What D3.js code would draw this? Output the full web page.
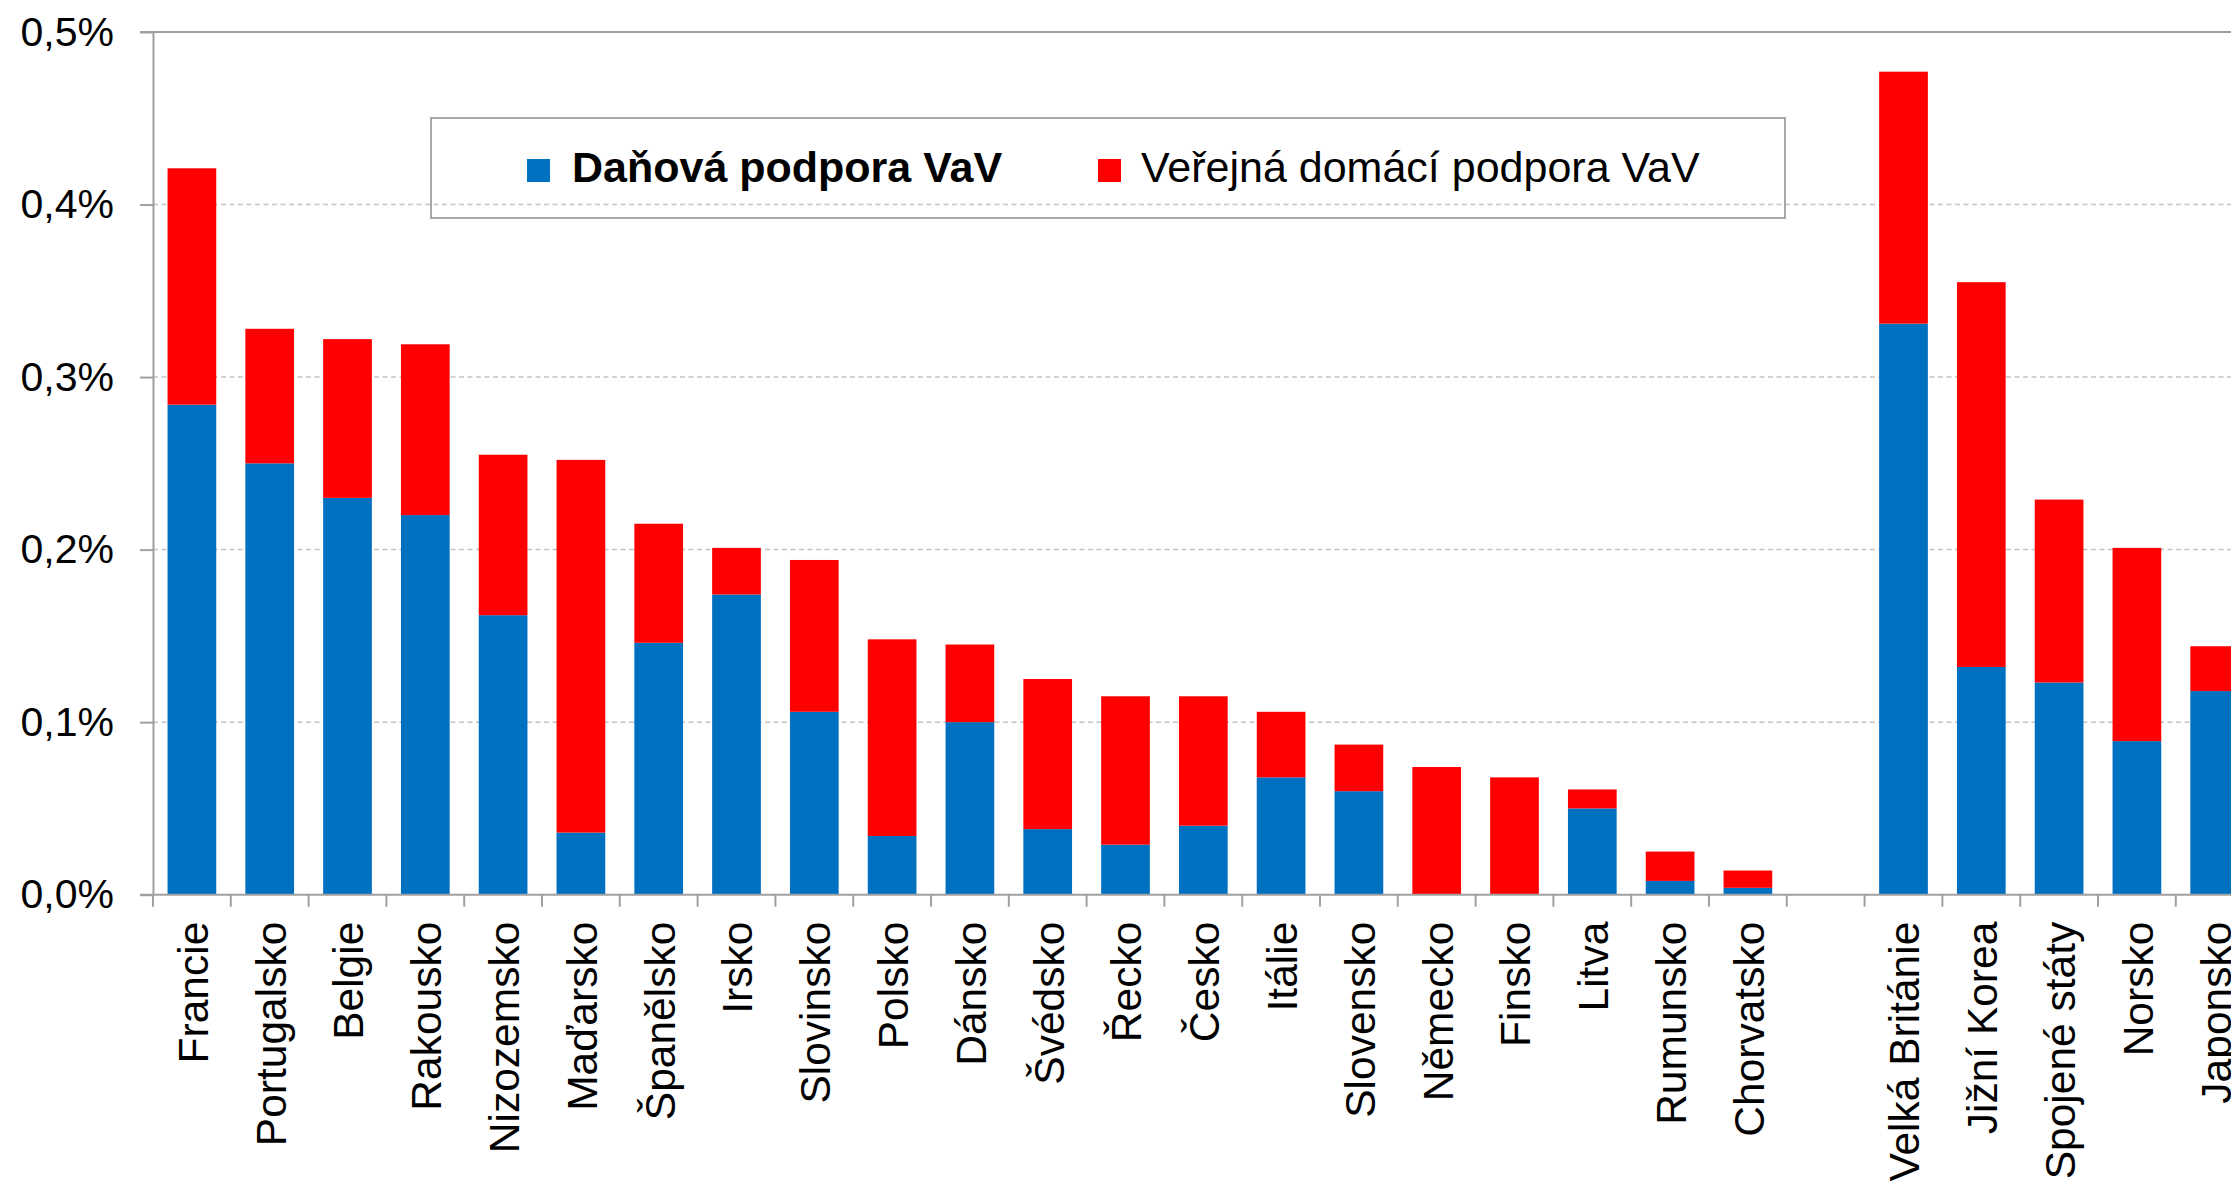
<!DOCTYPE html>
<html lang="cs">
<head>
<meta charset="utf-8">
<title>Daňová a veřejná domácí podpora VaV</title>
<script src="https://cdn.jsdelivr.net/npm/d3@7"></script>
<style>
  html, body { margin: 0; padding: 0; background: #ffffff; overflow: hidden; }
  svg { display: block; font-family: "Liberation Sans", Arial, Helvetica, sans-serif; }
</style>
</head>
<body>
<svg id="chart" width="2231" height="1184"></svg>
<script>
// Countries in drawing order; the empty entry is the gap between EU and non-EU countries
const countries = [
  "Francie", "Portugalsko", "Belgie", "Rakousko", "Nizozemsko", "Maďarsko",
  "Španělsko", "Irsko", "Slovinsko", "Polsko", "Dánsko", "Švédsko", "Řecko",
  "Česko", "Itálie", "Slovensko", "Německo", "Finsko", "Litva", "Rumunsko",
  "Chorvatsko", "",
  "Velká Británie", "Jižní Korea", "Spojené státy", "Norsko", "Japonsko"
];

// Tax support for R&D (% of GDP)
const taxSupport = [
  0.284, 0.250, 0.230, 0.220, 0.162, 0.036,
  0.146, 0.174, 0.106, 0.034, 0.100, 0.038, 0.029,
  0.040, 0.068, 0.060, 0.000, 0.000, 0.050, 0.008,
  0.004, null,
  0.331, 0.132, 0.123, 0.089, 0.118
];

// Direct public domestic support for R&D (% of GDP)
const directSupport = [
  0.137, 0.078, 0.092, 0.099, 0.093, 0.216,
  0.069, 0.027, 0.088, 0.114, 0.045, 0.087, 0.086,
  0.075, 0.038, 0.027, 0.074, 0.068, 0.011, 0.017,
  0.010, null,
  0.146, 0.223, 0.106, 0.112, 0.026
];

const yTickValues = [0, 0.1, 0.2, 0.3, 0.4, 0.5];

const seriesNames = ["Daňová podpora VaV", "Veřejná domácí podpora VaV"];
const seriesColors = ["#0070C0", "#FF0000"];

// ---- layout ----
const svg = d3.select("#chart");
const plotLeft = 153, plotTop = 32, plotBottom = 894.7;
const step = 77.8;
const barFrac = 0.626;

const x = d3.scaleBand()
  .domain(countries.map((c, i) => i))
  .range([plotLeft, plotLeft + step * countries.length])
  .padding(0);

const y = d3.scaleLinear().domain([0, 0.5]).range([plotBottom, plotTop]);

const pctFormat = v => d3.format(".1f")(v).replace(".", ",") + "%";

// ---- gridlines ----
svg.append("g")
  .selectAll("line")
  .data(yTickValues.filter(v => v > 0 && v < 0.5))
  .join("line")
  .attr("x1", plotLeft).attr("x2", 2231)
  .attr("y1", d => y(d)).attr("y2", d => y(d))
  .attr("stroke", "#c4c4c4")
  .attr("stroke-width", 1.5)
  .attr("stroke-dasharray", "5,3.5");

// ---- stacked bars ----
const rows = countries.map((c, i) => ({ i, tax: taxSupport[i], direct: directSupport[i] }))
  .filter(r => r.tax !== null);
const stacked = d3.stack().keys(["tax", "direct"])(rows);

const bw = x.bandwidth() * barFrac;
svg.append("g")
  .selectAll("g")
  .data(stacked)
  .join("g")
  .attr("fill", (d, k) => seriesColors[k])
  .selectAll("rect")
  .data(d => d)
  .join("rect")
  .attr("x", d => x(d.data.i) + (x.bandwidth() - bw) / 2)
  .attr("width", bw)
  .attr("y", d => y(d[1]))
  .attr("height", d => Math.max(0, y(d[0]) - y(d[1])));

// ---- axes frame ----
const axisColor = "#a0a0a0";
// top border of the plot area
svg.append("line")
  .attr("x1", plotLeft - 13).attr("x2", 2231)
  .attr("y1", y(0.5)).attr("y2", y(0.5))
  .attr("stroke", axisColor).attr("stroke-width", 2);

// y axis
const yAxis = d3.axisLeft(y)
  .tickValues(yTickValues)
  .tickFormat(pctFormat)
  .tickSize(13)
  .tickSizeOuter(0)
  .tickPadding(26);

const gy = svg.append("g")
  .attr("transform", `translate(${plotLeft},0)`)
  .call(yAxis);
gy.select(".domain").attr("stroke", axisColor).attr("stroke-width", 2);
gy.selectAll(".tick line").attr("stroke", axisColor).attr("stroke-width", 2);
gy.selectAll(".tick text")
  .attr("fill", "#000")
  .style("font-size", "41px")
  .style("font-family", "'Liberation Sans', Arial, sans-serif");

// x axis: ticks at band boundaries
const bounds = d3.range(countries.length + 1).map(k => plotLeft + step * k);
svg.append("g")
  .selectAll("line")
  .data(bounds)
  .join("line")
  .attr("x1", d => d).attr("x2", d => d)
  .attr("y1", plotBottom).attr("y2", plotBottom + 12)
  .attr("stroke", axisColor).attr("stroke-width", 2);

svg.append("line")
  .attr("x1", plotLeft - 13).attr("x2", 2231)
  .attr("y1", plotBottom).attr("y2", plotBottom)
  .attr("stroke", axisColor).attr("stroke-width", 2);

// category labels, rotated
svg.append("g")
  .selectAll("text")
  .data(countries.map((c, i) => ({ c, i })).filter(d => d.c !== ""))
  .join("text")
  .attr("transform", d => `translate(${x(d.i) + x.bandwidth() / 2 + 1},${plotBottom + 27}) rotate(-90)`)
  .attr("text-anchor", "end")
  .attr("dy", "0.35em")
  .attr("fill", "#000")
  .style("font-size", "42.5px")
  .text(d => d.c);

// ---- legend ----
const legend = svg.append("g");
legend.append("rect")
  .attr("x", 431).attr("y", 118)
  .attr("width", 1354).attr("height", 100)
  .attr("fill", "none")
  .attr("stroke", "#8a8a8a")
  .attr("stroke-width", 1.5);

const legendItems = [
  { name: seriesNames[0], color: seriesColors[0], sx: 527, tx: 572, weight: "bold" },
  { name: seriesNames[1], color: seriesColors[1], sx: 1098, tx: 1141, weight: "normal" }
];
legendItems.forEach(it => {
  legend.append("rect")
    .attr("x", it.sx).attr("y", 159)
    .attr("width", 23).attr("height", 23)
    .attr("fill", it.color);
  legend.append("text")
    .attr("x", it.tx).attr("y", 182)
    .attr("fill", "#000")
    .style("font-size", "43px")
    .style("font-weight", it.weight)
    .text(it.name);
});
</script>
</body>
</html>
